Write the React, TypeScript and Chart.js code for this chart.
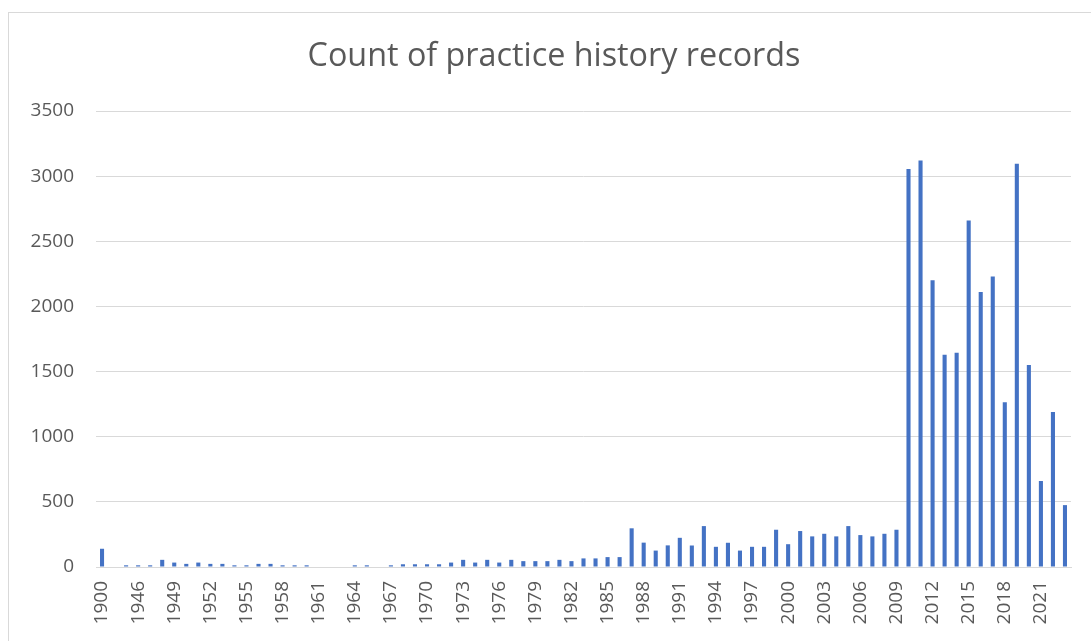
import React, { useEffect, useRef } from "react";
import { Chart, registerables } from "chart.js";

Chart.register(...registerables);

const TITLE = "Count of practice history records";

const years: string[] = [
  "1900", "1944", "1945", "1946", "1947", "1948", "1949", "1950", "1951", "1952",
  "1953", "1954", "1955", "1956", "1957", "1958", "1959", "1960", "1961", "1962",
  "1963", "1964", "1965", "1966", "1967", "1968", "1969", "1970", "1971", "1972",
  "1973", "1974", "1975", "1976", "1977", "1978", "1979", "1980", "1981", "1982",
  "1983", "1984", "1985", "1986", "1987", "1988", "1989", "1990", "1991", "1992",
  "1993", "1994", "1995", "1996", "1997", "1998", "1999", "2000", "2001", "2002",
  "2003", "2004", "2005", "2006", "2007", "2008", "2009", "2010", "2011", "2012",
  "2013", "2014", "2015", "2016", "2017", "2018", "2019", "2020", "2021", "2022",
  "2023",
];

const counts: number[] = [
  140, 0, 13, 13, 13, 55, 34, 24, 34, 24,
  24, 13, 13, 24, 24, 13, 13, 13, 0, 0,
  0, 13, 13, 0, 13, 21, 21, 21, 21, 34,
  55, 34, 55, 34, 55, 45, 45, 45, 55, 45,
  66, 66, 76, 76, 297, 187, 126, 166, 224, 165,
  314, 155, 186, 126, 155, 155, 286, 175, 276, 235,
  255, 235, 314, 245, 235, 255, 286, 3055, 3120, 2200,
  1630, 1645, 2660, 2110, 2230, 1265, 3095, 1550, 660, 1190,
  475,
];

const yTicks: number[] = [0, 500, 1000, 1500, 2000, 2500, 3000, 3500];

const FONT = "'Open Sans', Lato, sans-serif";
const TEXT = "#595959";
const GRID = "#d9d9d9";
const BAR = "#4472C4";

const framePlugin = {
  id: "frame",
  beforeDraw(chart: any) {
    const ctx = chart.ctx;
    ctx.save();
    ctx.fillStyle = "#ffffff";
    ctx.fillRect(0, 0, chart.width, chart.height);
    ctx.strokeStyle = GRID;
    ctx.lineWidth = 1;
    ctx.strokeRect(8.5, 12.5, chart.width + 20, chart.height + 20);
    ctx.fillStyle = TEXT;
    ctx.font = `28px ${FONT}`;
    const w = ctx.measureText(TITLE).width;
    const size = (28 * 493) / w;
    ctx.font = `${size.toFixed(2)}px ${FONT}`;
    ctx.textAlign = "center";
    ctx.textBaseline = "alphabetic";
    ctx.fillText(TITLE, 554, 66);
    ctx.restore();
  },
};

export default function App() {
  const ref = useRef<HTMLCanvasElement | null>(null);

  useEffect(() => {
    if (!ref.current) return;
    const chart = new Chart(ref.current, {
      type: "bar",
      data: {
        labels: years,
        datasets: [
          {
            label: "Count",
            data: counts,
            backgroundColor: BAR,
            borderWidth: 0,
            barPercentage: 0.34,
            categoryPercentage: 1,
          },
        ],
      },
      options: {
        responsive: false,
        animation: false,
        maintainAspectRatio: false,
        layout: { padding: { top: 111, right: 20, left: 0, bottom: 0 } },
        plugins: {
          legend: { display: false },
          title: { display: false },
          tooltip: { enabled: false },
        },
        scales: {
          x: {
            grid: { display: false, drawTicks: false },
            border: { display: true, color: GRID, width: 1 },
            ticks: {
              autoSkip: false,
              minRotation: 90,
              maxRotation: 90,
              padding: 14,
              color: TEXT,
              font: { family: FONT, size: 19 },
              callback: (_v: any, i: number) => (i % 3 === 0 ? years[i] : ""),
            },
            afterFit: (s: any) => {
              s.height = 74;
              s.paddingRight = 0;
              s.paddingLeft = 0;
            },
          },
          y: {
            min: 0,
            max: 3500,
            afterBuildTicks: (s: any) => {
              s.ticks = yTicks.map((v) => ({ value: v }));
            },
            grid: { color: GRID, lineWidth: 1, drawTicks: false },
            border: { display: false },
            ticks: {
              padding: 22,
              color: TEXT,
              font: { family: FONT, size: 19 },
              callback: (v: any) => String(v),
            },
            afterFit: (s: any) => {
              s.width = 96;
              s.paddingTop = 0;
              s.paddingBottom = 0;
            },
          },
        },
      },
      plugins: [framePlugin],
    });
    return () => chart.destroy();
  }, []);

  return (
    <div style={{ position: "fixed", left: 0, top: 0, width: 1091, height: 641 }}>
      <canvas ref={ref} width={1091} height={641} style={{ display: "block" }} />
    </div>
  );
}
